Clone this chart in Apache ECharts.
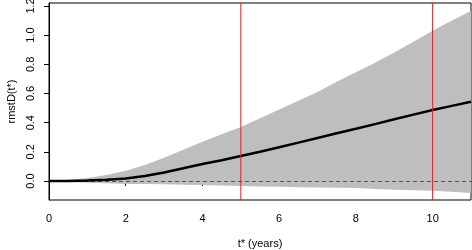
<!DOCTYPE html>
<html>
  <head>
    <title></title>
    <meta charset="UTF-8" />
    <script src="https://cdn.jsdelivr.net/npm/echarts@6/dist/echarts.min.js"></script>
    <style>
      body { margin: 0; background: #fff; }
    </style>
  </head>
  <body>
    <div id="main"></div>
    <script>
      const width = 472;
      const height = 250;
      const main = document.getElementById('main');
      main.style.width = `${width}px`;
      main.style.height = `${height}px`;

      // data
      const times = [0, 0.5, 1, 1.5, 2, 2.5, 3, 3.5, 4, 4.5, 5, 5.5, 6, 6.5, 7, 7.5, 8, 8.5, 9, 9.5, 10, 10.5, 11];
      const rmstD = [0, 0.001, 0.003, 0.008, 0.018, 0.034, 0.058, 0.087, 0.117, 0.143, 0.171, 0.201, 0.232, 0.263, 0.295, 0.327, 0.358, 0.39, 0.423, 0.455, 0.487, 0.515, 0.543];
      const upper = [0, 0.008, 0.02, 0.042, 0.07, 0.11, 0.16, 0.215, 0.27, 0.32, 0.37, 0.43, 0.49, 0.55, 0.61, 0.68, 0.745, 0.81, 0.88, 0.955, 1.03, 1.1, 1.166];
      const lower = [0, -0.006, -0.012, -0.016, -0.02, -0.02, -0.022, -0.025, -0.027, -0.03, -0.034, -0.037, -0.04, -0.042, -0.044, -0.046, -0.048, -0.055, -0.06, -0.063, -0.066, -0.074, -0.082];
      const yTicks = [0, 0.2, 0.4, 0.6, 0.8, 1.0, 1.2];
      const vLines = [5, 10];

      const yMin = -0.13;
      const yMax = 1.22;
      const font = 'Liberation Sans, Arial, sans-serif';

      // band polygon: upper edge forward, lower edge back
      const bandData = times.map((t, i) => [t, lower[i], upper[i]]);

      const myChart = echarts.init(main);
      const option = {
        animation: false,
        grid: {
          left: 49,
          right: 1,
          top: 3,
          bottom: 50,
          outerBoundsMode: 'none',
          show: true,
          borderColor: '#000',
          borderWidth: 1,
        },
        xAxis: {
          type: 'value',
          min: 0,
          max: 11,
          interval: 2,
          name: 't* (years)',
          nameLocation: 'middle',
          nameGap: 38,
          nameTextStyle: { fontFamily: font, fontSize: 11, color: '#000' },
          splitLine: { show: false },
          axisLine: { lineStyle: { color: '#000' } },
          axisTick: { length: 5, lineStyle: { color: '#000' } },
          axisLabel: { margin: 13, showMaxLabel: false, fontFamily: font, fontSize: 11, color: '#000' },
        },
        yAxis: {
          type: 'value',
          min: yMin,
          max: yMax,
          name: 'rmstD(t*)',
          nameLocation: 'middle',
          nameGap: 32,
          nameTextStyle: { fontFamily: font, fontSize: 11, color: '#000' },
          splitLine: { show: false },
          axisLine: { show: true, onZero: false, lineStyle: { color: '#000' } },
          axisTick: { length: 5, customValues: yTicks, lineStyle: { color: '#000' } },
          axisLabel: {
            customValues: yTicks,
            rotate: 90,
            margin: 13,
            fontFamily: font,
            fontSize: 11,
            color: '#000',
            formatter: (v) => v.toFixed(1),
          },
        },
        series: [
          {
            type: 'custom',
            silent: true,
            data: bandData,
            encode: { x: 0, y: [1, 2] },
            renderItem: (params, api) => {
              if (params.dataIndex !== 0) return null;
              const top = bandData.map((d) => api.coord([d[0], d[2]]));
              const bottom = bandData.map((d) => api.coord([d[0], d[1]])).reverse();
              return {
                type: 'polygon',
                shape: { points: top.concat(bottom) },
                style: { fill: '#bebebe', stroke: null },
              };
            },
            clip: true,
            markLine: {
              silent: true,
              symbol: 'none',
              label: { show: false },
              lineStyle: { color: '#555', type: [4, 3], width: 1 },
              data: [{ yAxis: 0 }],
            },
          },
          {
            type: 'line',
            data: times.map((t, i) => [t, rmstD[i]]),
            showSymbol: false,
            lineStyle: { color: '#000', width: 2.5 },
            z: 5,
          },
          {
            type: 'custom',
            silent: true,
            z: 6,
            data: vLines.map((v) => [v]),
            encode: { x: 0 },
            renderItem: (params, api) => {
              const v = api.value(0);
              const p1 = api.coord([v, yMin]);
              const p2 = api.coord([v, yMax]);
              return {
                type: 'line',
                shape: { x1: p1[0], y1: p1[1], x2: p2[0], y2: p2[1] },
                style: { stroke: '#e02020', lineWidth: 1 },
              };
            },
          },
        ],
      };
      myChart.setOption(option);
    </script>
  </body>
</html>
